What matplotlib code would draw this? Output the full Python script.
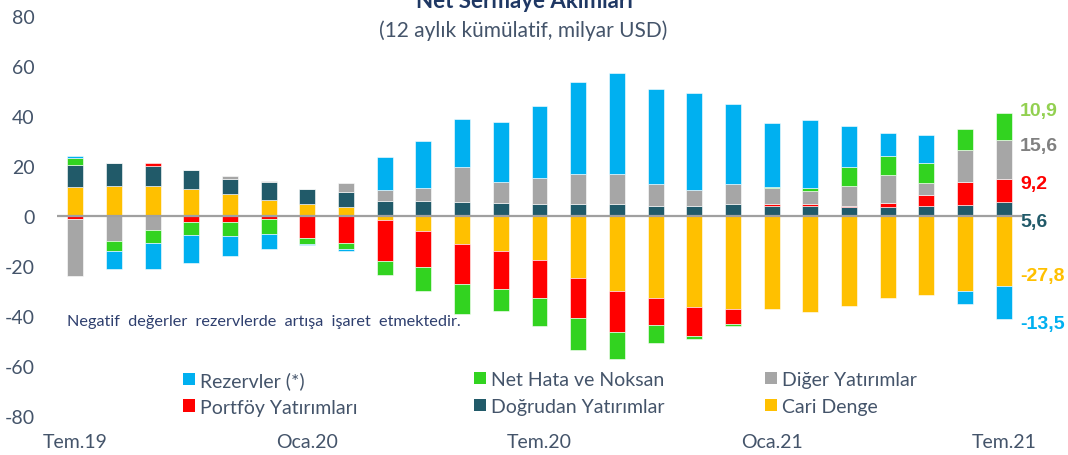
import numpy as np
import matplotlib.pyplot as plt
from matplotlib.legend import Legend

plt.rcParams['font.family'] = ['Lato', 'DejaVu Sans']
plt.rcParams['axes.unicode_minus'] = False

# 12 aylik kumulatif net sermaye akimlari, milyar USD (Tem.19 - Tem.21)
months = ['Tem.19', 'Ağu.19', 'Eyl.19', 'Eki.19', 'Kas.19', 'Ara.19',
          'Oca.20', 'Şub.20', 'Mar.20', 'Nis.20', 'May.20', 'Haz.20',
          'Tem.20', 'Ağu.20', 'Eyl.20', 'Eki.20', 'Kas.20', 'Ara.20',
          'Oca.21', 'Şub.21', 'Mar.21', 'Nis.21', 'May.21', 'Haz.21', 'Tem.21']

cari = [11.7, 12.1, 12.1, 11.0, 8.8, 6.3, 4.7, 3.7, -1.4, -6.0, -11.2, -14.1,
        -17.4, -24.9, -30.0, -32.8, -36.3, -37.3, -37.3, -38.4, -36.1, -32.8,
        -31.7, -30.0, -27.8]
dogrudan = [8.8, 9.0, 8.0, 7.4, 6.0, 7.2, 6.3, 6.0, 5.9, 5.9, 5.8, 5.2, 4.8,
            4.8, 4.8, 4.1, 4.1, 4.8, 4.1, 4.0, 3.6, 3.6, 4.0, 4.6, 5.6]
portfoy = [-1.3, 0.0, 1.1, -2.5, -2.5, -1.3, -8.9, -10.7, -16.5, -14.2, -16.0,
           -15.2, -15.3, -15.7, -16.4, -10.7, -11.8, -5.8, 0.6, 0.7, 0.4, 1.6,
           4.5, 9.1, 9.2]
diger = [-22.7, -9.9, -5.4, 0.0, 1.3, 0.5, 0.0, 3.6, 4.6, 5.3, 13.8, 8.4, 10.4,
         12.0, 12.0, 8.7, 6.4, 8.0, 6.4, 5.2, 8.0, 11.3, 4.8, 12.6, 15.6]
net_hata = [2.6, -4.0, -5.2, -5.2, -5.6, -6.0, -2.4, -2.6, -5.7, -9.8, -11.9,
            -8.6, -11.3, -13.0, -10.8, -7.3, -1.1, -1.0, 0.5, 1.2, 7.5, 7.5,
            7.9, 8.5, 10.9]
rezervler = [1.0, -7.4, -10.7, -10.9, -8.0, -6.0, -0.4, -0.6, 13.0, 18.7, 19.2,
             24.2, 28.8, 36.9, 40.3, 38.0, 38.6, 32.0, 25.6, 27.2, 16.5, 9.1,
             11.3, -5.1, -13.5]

series = [('Cari Denge', cari, '#FFC000', '#FFC000'),
          ('Doğrudan Yatırımlar', dogrudan, '#215A69', '#215A69'),
          ('Portföy Yatırımları', portfoy, '#FF0000', '#FF0000'),
          ('Diğer Yatırımlar', diger, '#A6A6A6', '#808080'),
          ('Net Hata ve Noksan', net_hata, '#32D320', '#92D050'),
          ('Rezervler (*)', rezervler, '#00B0F0', '#00B0F0')]

text_col = '#44546A'

fig = plt.figure(figsize=(10.68, 4.56), dpi=100)
ax = fig.add_axes([57/1068, 39/456, 965/1068, 400/456])

x = np.arange(len(months))
pos_base = np.zeros(len(months))
neg_base = np.zeros(len(months))
bars = {}
for name, vals, col, _ in series:
    v = np.array(vals)
    base = np.where(v >= 0, pos_base, neg_base)
    bars[name] = ax.bar(x, v, 0.41, bottom=base, color=col,
                        edgecolor='white', linewidth=0.4, zorder=2)
    pos_base += np.where(v >= 0, v, 0)
    neg_base += np.where(v < 0, v, 0)

ax.axhline(0, color='#A0A0A0', lw=1.6, zorder=3)

# son ay degerleri, sag tarafta
label_y = {'Net Hata ve Noksan': 42, 'Diğer Yatırımlar': 28,
           'Portföy Yatırımları': 12.8, 'Doğrudan Yatırımlar': -2.2,
           'Cari Denge': -24, 'Rezervler (*)': -43}
for name, vals, _, lab_col in series:
    txt = f'{vals[-1]:.1f}'.replace('.', ',')
    ax.text(x[-1] + 0.42, label_y[name], txt, color=lab_col, fontsize=14,
            fontweight='bold', family='Liberation Sans', va='center',
            ha='left', clip_on=False)

ax.set_xlim(-0.47, 24.47)
ax.set_ylim(-80, 80)
ax.set_yticks(np.arange(-80, 81, 20))
ax.set_xticks(x[::6])
ax.set_xticklabels(months[::6])
ax.tick_params(length=0, labelsize=14, colors=text_col)
ax.tick_params(axis='x', pad=12)
ax.tick_params(axis='y', pad=16)
for s in ax.spines.values():
    s.set_visible(False)

ax.text(-0.2, -42, 'Negatif  değerler  rezervlerde  artışa  işaret  etmektedir.',
        fontsize=11.7, color='#2E3F6E', va='center', ha='left')

# legend: 3 kolon, her kolon ayri
cols = [['Rezervler (*)', 'Portföy Yatırımları'],
        ['Net Hata ve Noksan', 'Doğrudan Yatırımlar'],
        ['Diğer Yatırımlar', 'Cari Denge']]
col_x = [183, 474, 765]
for names, px in zip(cols, col_x):
    leg = Legend(ax, [bars[n] for n in names], names, loc='upper left',
                 bbox_to_anchor=((px - 57) / 965, (417 - 372) / 400),
                 frameon=False, fontsize=14, handlelength=0.62,
                 handleheight=0.62, handletextpad=0.25, labelspacing=0.5,
                 borderpad=0, borderaxespad=0, labelcolor=text_col)
    for h in leg.legend_handles:
        h.set_edgecolor('none')
    ax.add_artist(leg)

fig.text(525/1068, 1 - 8/456, 'Net Sermaye Akımları', ha='center',
         va='baseline', fontsize=16, color='#1F3864', fontweight='bold')
fig.text(523/1068, 1 - 31/456, '(12 aylık kümülatif, milyar USD)',
         ha='center', va='center', fontsize=15, color=text_col)

fig.savefig('out.png', dpi=100)
